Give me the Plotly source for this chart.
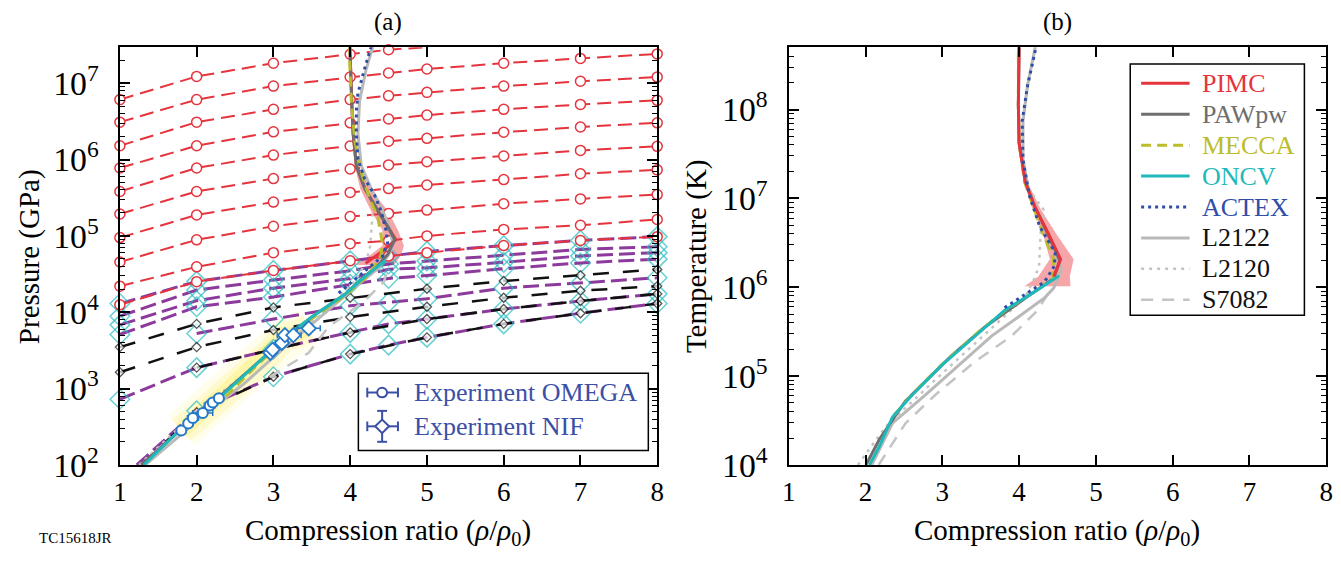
import plotly.graph_objects as go

W, H = 1341, 561
FONT = "Liberation Serif, Times New Roman, serif"

# ---------------- Panel (a): isotherm grid, log10 P [GPa] vs rho/rho0 ----------------
x_grid = [1, 2, 3, 4, 4.5, 5, 6, 7, 8]
x_grid_top = [1, 2, 3, 4, 4.5, 5]
x_int = [1, 2, 3, 4, 5, 6, 7, 8]
x_from2_45 = [2, 3, 4, 4.5, 5, 6, 7, 8]
x_from2 = [2, 3, 4, 5, 6, 7, 8]
x_cold_purple = [1.22, 2, 3, 4, 4.5, 5, 6, 7, 8]
x_cold_black = [1.28, 2, 3, 4, 5, 6, 7, 8]

red_1 = [6.785, 7.089, 7.262, 7.380, 7.439, 7.472]
red_2 = [6.490, 6.785, 6.962, 7.082, 7.133, 7.186, 7.262, 7.325, 7.384]
red_3 = [6.181, 6.490, 6.658, 6.785, 6.835, 6.880, 6.962, 7.025, 7.080]
red_4 = [5.890, 6.181, 6.363, 6.481, 6.532, 6.582, 6.658, 6.722, 6.776]
red_5 = [5.582, 5.890, 6.059, 6.177, 6.241, 6.278, 6.358, 6.427, 6.481]
red_6 = [5.287, 5.582, 5.751, 5.877, 5.930, 5.972, 6.047, 6.120, 6.173]
red_7 = [4.978, 5.275, 5.443, 5.570, 5.620, 5.667, 5.738, 5.814, 5.865]
red_8 = [4.658, 4.949, 5.127, 5.253, 5.295, 5.338, 5.422, 5.485, 5.541]
red_9 = [4.342, 4.595, 4.781, 4.899, 4.937, 5.000, 5.085, 5.139, 5.215]
red_10 = [4.097, 4.401, 4.548, 4.675, 4.738, 4.781, 4.873, 4.941, 4.990]

pur_1 = [4.114, 4.405, 4.548, 4.675, 4.734, 4.797, 4.873, 4.941, 4.991]
pur_2 = [3.949, 4.291, 4.422, 4.544, 4.633, 4.671, 4.747, 4.823, 4.857]
pur_3 = [3.835, 4.152, 4.316, 4.443, 4.563, 4.582, 4.654, 4.738, 4.781]
pur_4 = [3.709, 4.072, 4.199, 4.367, 4.443, 4.481, 4.570, 4.646, 4.696]
pur_5 = [3.722, 3.911, 4.085, 4.127, 4.177, 4.316, 4.380, 4.452]
pur_6 = [2.861, 3.275, 3.515, 3.734, 3.848, 3.911, 4.042, 4.148, 4.241]
pur_7 = [2.000, 2.709, 3.156, 3.452, 3.570, 3.671, 3.848, 3.987, 4.114]

blk_1 = [3.544, 3.848, 4.063, 4.190, 4.308, 4.409, 4.485, 4.561]
blk_2 = [3.215, 3.544, 3.768, 3.937, 4.072, 4.190, 4.282, 4.342]
blk_3 = [3.275, 3.515, 3.734, 3.911, 4.042, 4.148, 4.241]
blk_4 = [2.000, 2.690, 3.156, 3.452, 3.671, 3.848, 3.987, 4.114]

# ---------------- Panel (a): Hugoniots, log10 P ----------------
pimc_a_x = [4.20, 4.42, 4.595, 4.49, 4.36, 4.19, 4.08, 4.037, 4.02, 4.005, 3.996]
pimc_a_logP = [4.64, 4.80, 4.949, 5.118, 5.329, 5.624, 5.92, 6.342, 6.722, 7.186, 7.47]
pimc_a_band_logP = [4.62, 4.74, 4.87, 5.08, 5.33, 5.62, 5.92]
pimc_a_band_lo = [4.06, 4.25, 4.42, 4.42, 4.27, 4.13, 4.06]
pimc_a_band_hi = [4.57, 4.66, 4.70, 4.62, 4.49, 4.26, 4.11]

paw_a_x = [1.28, 1.50, 1.80, 2.00, 2.30, 3.00, 3.50, 3.95, 4.20, 4.38, 4.49, 4.58, 4.49, 4.36, 4.19, 4.08, 4.04, 4.02, 4.005, 3.996]
paw_a_logP = [2.00, 2.20, 2.47, 2.68, 2.90, 3.52, 3.94, 4.25, 4.48, 4.63, 4.76, 4.95, 5.12, 5.33, 5.62, 5.92, 6.34, 6.72, 7.19, 7.47]

oncv_a_x = [1.31, 1.48, 1.78, 2.00, 2.30, 2.99, 3.33, 3.50, 3.93, 4.19, 4.46]
oncv_a_logP = [2.00, 2.165, 2.459, 2.671, 2.882, 3.515, 3.81, 3.937, 4.232, 4.465, 4.68]

mecca_a_x = [2.38, 2.81, 3.32, 3.95, 4.22, 4.40, 4.42, 4.36, 4.25, 4.144, 4.058, 4.015, 3.994, 3.996]
mecca_a_logP = [2.90, 3.33, 3.79, 4.23, 4.47, 4.738, 4.908, 5.244, 5.497, 5.835, 6.257, 6.763, 7.27, 7.47]

actex_a_x = [3.85, 4.05, 4.25, 4.424, 4.488, 4.466, 4.402, 4.316, 4.187, 4.101, 4.08, 4.08, 4.101, 4.144, 4.187, 4.273]
actex_a_logP = [4.25, 4.42, 4.58, 4.738, 4.908, 5.076, 5.329, 5.541, 5.751, 6.004, 6.342, 6.637, 6.87, 7.038, 7.186, 7.48]

l2122_a_x = [1.33, 1.80, 2.10, 2.60, 3.10, 3.60, 4.10, 4.36, 4.50, 4.553, 4.531, 4.424, 4.273, 4.144, 4.101, 4.122, 4.209, 4.295]
l2122_a_logP = [2.0, 2.40, 2.67, 3.05, 3.50, 3.93, 4.36, 4.57, 4.75, 4.865, 5.076, 5.329, 5.624, 5.92, 6.342, 6.763, 7.186, 7.48]

l2120_a_x = [1.25, 2.0, 3.0, 3.6, 4.05, 4.21, 4.26, 4.273, 4.295, 4.25, 4.144, 4.10, 4.12, 4.21, 4.295]
l2120_a_logP = [2.0, 2.70, 3.48, 3.95, 4.40, 4.654, 4.865, 5.076, 5.329, 5.624, 5.92, 6.342, 6.763, 7.186, 7.48]

s7082_a_x = [2.95, 3.46, 3.72, 4.19, 4.44, 4.50]
s7082_a_logP = [3.15, 3.47, 3.81, 4.15, 4.40, 4.60]

# experiments
omega_x = [1.80, 1.89, 1.95, 2.08, 2.17, 2.21, 2.29]
omega_logP = [2.452, 2.544, 2.616, 2.680, 2.778, 2.819, 2.873]
omega_xerr = [0.05, 0.06, 0.07, 0.13, 0.07, 0.06, 0.06]
nif_x = [2.96, 2.99, 3.11, 3.15, 3.26, 3.46]
nif_logP = [3.47, 3.51, 3.60, 3.70, 3.70, 3.79]
nif_xerr = [0.06, 0.06, 0.08, 0.10, 0.10, 0.15]

# ---------------- Panel (b): Hugoniots, log10 T [K] ----------------
pimc_b_x = [4.45, 4.54, 4.38, 4.21, 4.08, 4.00, 3.99, 4.00]
pimc_b_logT = [6.12, 6.315, 6.605, 6.895, 7.185, 7.62, 8.054, 8.70]
pimc_b_band_logT = [6.01, 6.12, 6.315, 6.605, 6.895, 7.185, 7.62]
pimc_b_band_lo = [4.07, 4.25, 4.40, 4.31, 4.17, 4.06, 3.99]
pimc_b_band_hi = [4.67, 4.66, 4.71, 4.48, 4.27, 4.11, 4.01]

paw_b_x = [2.005, 2.18, 2.52, 2.78, 3.12, 3.55, 3.90, 4.15, 4.45, 4.53, 4.37, 4.21, 4.08, 4.00, 3.99, 4.00]
paw_b_logT = [4.0, 4.29, 4.72, 4.94, 5.23, 5.55, 5.77, 5.92, 6.10, 6.30, 6.605, 6.895, 7.185, 7.62, 8.054, 8.70]

oncv_b_x = [2.05, 2.18, 2.35, 2.61, 2.99, 3.51, 3.81, 4.15, 4.52]
oncv_b_logT = [4.0, 4.21, 4.54, 4.79, 5.12, 5.52, 5.74, 5.92, 6.13]

mecca_b_x = [2.37, 2.60, 2.98, 3.50, 3.82, 4.15, 4.44, 4.45, 4.31, 4.19, 4.07, 4.00, 3.99, 3.99]
mecca_b_logT = [4.56, 4.79, 5.12, 5.52, 5.74, 5.92, 6.10, 6.315, 6.605, 6.895, 7.185, 7.62, 8.054, 8.70]

actex_b_x = [3.81, 4.07, 4.33, 4.46, 4.47, 4.27, 4.13, 4.05, 4.04, 4.11, 4.22]
actex_b_logT = [5.77, 5.92, 6.06, 6.24, 6.39, 6.68, 7.04, 7.44, 7.87, 8.27, 8.70]

l2122_b_x = [2.08, 2.35, 2.78, 3.21, 3.64, 3.98, 4.33, 4.45, 4.55, 4.40, 4.26, 4.12, 4.05, 4.05, 4.11, 4.21]
l2122_b_logT = [4.0, 4.47, 4.79, 5.12, 5.45, 5.66, 5.88, 5.99, 6.20, 6.55, 6.80, 7.10, 7.44, 7.87, 8.27, 8.70]

l2120_b_x = [1.90, 2.26, 2.91, 3.55, 4.07, 4.20, 4.26, 4.28, 4.33, 4.13, 4.05, 4.05, 4.11, 4.21]
l2120_b_logT = [4.0, 4.43, 4.96, 5.47, 5.88, 6.10, 6.24, 6.61, 6.86, 7.10, 7.44, 7.87, 8.27, 8.70]

s7082_b_x = [2.17, 2.52, 2.91, 3.42, 3.90, 4.24, 4.37, 4.42]
s7082_b_logT = [4.0, 4.47, 4.79, 5.16, 5.45, 5.74, 5.92, 5.99]

legend_b_names = ["PIMC", "PAWpw", "MECCA", "ONCV", "ACTEX", "L2122", "L2120", "S7082"]

# ---------------- styles ----------------
C_RED = "#e5343d"
C_PUR = "#8c3b9c"
C_CYAN = "#27bcc0"
C_BLK = "#111111"
C_PAW = "#6e6e6e"
C_MEC = "#bcbc2c"
C_ONCV = "#1fb9bb"
C_ACT = "#2f4ea8"
C_LG = "#b9b9b9"
C_EXP = "#2479cc"
C_EXPLEG = "#3b4fa6"

STY = {
    "PIMC": dict(color=C_RED, width=3, dash="solid"),
    "PAWpw": dict(color=C_PAW, width=3, dash="solid"),
    "MECCA": dict(color=C_MEC, width=3, dash="10px,6px"),
    "ONCV": dict(color=C_ONCV, width=3, dash="solid"),
    "ACTEX": dict(color=C_ACT, width=3, dash="3px,4px"),
    "L2122": dict(color=C_LG, width=3, dash="solid"),
    "L2120": dict(color="#c4c4c4", width=2.5, dash="3px,5px"),
    "S7082": dict(color="#c4c4c4", width=2.5, dash="12px,9px"),
}
LEG_TXT = {"PIMC": C_RED, "PAWpw": C_PAW, "MECCA": C_MEC, "ONCV": C_ONCV,
           "ACTEX": C_ACT, "L2122": C_BLK, "L2120": C_BLK, "S7082": C_BLK}


def pw(v):
    return [10 ** t for t in v]


fig = go.Figure()

# ---- panel (a) PIMC band ----
fig.add_trace(go.Scatter(
    x=pimc_a_band_lo + pimc_a_band_hi[::-1],
    y=pw(pimc_a_band_logP + pimc_a_band_logP[::-1]),
    fill="toself", fillcolor="rgba(240,105,112,0.6)", line=dict(width=0),
    mode="lines", xaxis="x", yaxis="y", hoverinfo="skip"))

# ---- glow behind experiments ----
glow_x = omega_x + nif_x
glow_y = pw(omega_logP + nif_logP)
for wdt, a in [(40, 0.12), (28, 0.2), (16, 0.34)]:
    fig.add_trace(go.Scatter(x=glow_x, y=glow_y, mode="lines",
                             line=dict(color=f"rgba(255,236,90,{a})", width=wdt),
                             xaxis="x", yaxis="y", hoverinfo="skip"))

# ---- purple isotherms with cyan diamonds ----
for xs, ys in [(x_grid, pur_1), (x_grid, pur_2), (x_grid, pur_3), (x_grid, pur_4),
               (x_from2_45, pur_5), (x_grid, pur_6), (x_cold_purple, pur_7)]:
    sizes = [0 if (xv % 0.5) else 15 for xv in xs]
    fig.add_trace(go.Scatter(
        x=xs, y=pw(ys), mode="lines+markers", cliponaxis=False,
        line=dict(color=C_PUR, width=3, dash="16px,6px"),
        marker=dict(symbol="diamond-open", size=sizes, color=C_CYAN, line=dict(color=C_CYAN, width=1.5)),
        xaxis="x", yaxis="y"))

# ---- black isotherms ----
for xs, ys in [(x_int, blk_1), (x_int, blk_2), (x_from2, blk_3), (x_cold_black, blk_4)]:
    sizes = [0 if (xv % 1) else 7 for xv in xs]
    fig.add_trace(go.Scatter(
        x=xs, y=pw(ys), mode="lines+markers", cliponaxis=False,
        line=dict(color=C_BLK, width=2.5, dash="16px,14px"),
        marker=dict(symbol="diamond", size=sizes, color="white", line=dict(color=C_BLK, width=1.3)),
        xaxis="x", yaxis="y"))

# ---- red PIMC isotherms ----
for xs, ys in [(x_grid_top, red_1), (x_grid, red_2), (x_grid, red_3), (x_grid, red_4),
               (x_grid, red_5), (x_grid, red_6), (x_grid, red_7), (x_grid, red_8),
               (x_grid, red_9), (x_grid, red_10)]:
    fig.add_trace(go.Scatter(
        x=xs, y=pw(ys), mode="lines+markers", cliponaxis=False,
        line=dict(color=C_RED, width=2, dash="14px,7px"),
        marker=dict(symbol="circle", size=10, color="white", line=dict(color=C_RED, width=1.5)),
        xaxis="x", yaxis="y"))

# ---- panel (a) Hugoniots ----
for name, xs, ys in [("S7082", s7082_a_x, s7082_a_logP), ("L2120", l2120_a_x, l2120_a_logP),
                     ("L2122", l2122_a_x, l2122_a_logP), ("PIMC", pimc_a_x, pimc_a_logP),
                     ("PAWpw", paw_a_x, paw_a_logP), ("MECCA", mecca_a_x, mecca_a_logP),
                     ("ONCV", oncv_a_x, oncv_a_logP), ("ACTEX", actex_a_x, actex_a_logP)]:
    fig.add_trace(go.Scatter(x=xs, y=pw(ys), mode="lines", line=STY[name],
                             xaxis="x", yaxis="y", name=name))

# ---- experiments ----
fig.add_trace(go.Scatter(
    x=omega_x, y=pw(omega_logP), mode="markers", cliponaxis=False,
    marker=dict(symbol="circle", size=10, color="white", line=dict(color=C_EXP, width=2)),
    error_x=dict(type="data", array=omega_xerr, color=C_EXP, thickness=1.5, width=3),
    xaxis="x", yaxis="y", name="Experiment OMEGA"))
fig.add_trace(go.Scatter(
    x=nif_x, y=pw(nif_logP), mode="markers",
    marker=dict(symbol="diamond", size=11, color="white", line=dict(color=C_EXP, width=1.8)),
    error_x=dict(type="data", array=nif_xerr, color=C_EXP, thickness=1.5, width=3),
    error_y=dict(type="percent", value=8, color=C_EXP, thickness=1.5, width=3),
    xaxis="x", yaxis="y", name="Experiment NIF"))

# ---- panel (b) ----
fig.add_trace(go.Scatter(
    x=pimc_b_band_lo + pimc_b_band_hi[::-1],
    y=pw(pimc_b_band_logT + pimc_b_band_logT[::-1]),
    fill="toself", fillcolor="rgba(240,105,112,0.6)", line=dict(width=0),
    mode="lines", xaxis="x2", yaxis="y2", hoverinfo="skip"))
for name, xs, ys in [("S7082", s7082_b_x, s7082_b_logT), ("L2120", l2120_b_x, l2120_b_logT),
                     ("L2122", l2122_b_x, l2122_b_logT), ("PAWpw", paw_b_x, paw_b_logT),
                     ("MECCA", mecca_b_x, mecca_b_logT), ("PIMC", pimc_b_x, pimc_b_logT),
                     ("ONCV", oncv_b_x, oncv_b_logT), ("ACTEX", actex_b_x, actex_b_logT)]:
    fig.add_trace(go.Scatter(x=xs, y=pw(ys), mode="lines", line=STY[name],
                             xaxis="x2", yaxis="y2", name=name))

# ---------------- axes ----------------
def X(px):
    return px / W


def Y(py):
    return 1 - py / H


axis_common = dict(showline=True, linecolor="black", linewidth=1.5, mirror="ticks",
                   ticks="inside", ticklen=10, tickwidth=1.5, tickcolor="black",
                   showgrid=False, zeroline=False,
                   tickfont=dict(family=FONT, size=27, color="black"))
xcommon = dict(axis_common, range=[1, 8], tick0=1, dtick=1, ticklabelstandoff=2)
ycommon = dict(axis_common, type="log", dtick=1, exponentformat="power", ticklabelstandoff=14,
               minor=dict(ticks="inside", ticklen=5, tickwidth=1, tickcolor="black", dtick="D1", showgrid=False))

fig.update_layout(
    width=W, height=H, margin=dict(l=0, r=0, t=0, b=0),
    paper_bgcolor="white", plot_bgcolor="white", showlegend=False,
    font=dict(family=FONT, color="black", size=20),
    xaxis=dict(xcommon, domain=[X(106), X(649)], anchor="y"),
    yaxis=dict(ycommon, domain=[Y(473), Y(40.7)], range=[2, 7.47], anchor="x"),
    xaxis2=dict(xcommon, domain=[X(782), X(1325)], anchor="y2"),
    yaxis2=dict(ycommon, domain=[Y(473), Y(40.7)], range=[4, 8.70], anchor="x2"),
)

ann = []
xt = "Compression ratio (<i>ρ</i>/<i>ρ</i><sub>0</sub>)"
for cx, lab in [(377, "(a)"), (1053, "(b)")]:
    ann.append(dict(x=X(cx), y=Y(14), xref="paper", yref="paper", text=lab, showarrow=False,
                    font=dict(family=FONT, size=25), xanchor="center", yanchor="middle"))
    ann.append(dict(x=X(cx), y=Y(542), xref="paper", yref="paper", text=xt, showarrow=False,
                    font=dict(family=FONT, size=29), xanchor="center", yanchor="middle"))
ann.append(dict(x=X(14), y=Y(257), xref="paper", yref="paper", text="Pressure (GPa)", textangle=-90,
                showarrow=False, font=dict(family=FONT, size=29), xanchor="center", yanchor="middle"))
ann.append(dict(x=X(688), y=Y(257), xref="paper", yref="paper", text="Temperature (K)", textangle=-90,
                showarrow=False, font=dict(family=FONT, size=29), xanchor="center", yanchor="middle"))
ann.append(dict(x=X(22), y=Y(549), xref="paper", yref="paper", text="TC15618JR", showarrow=False,
                font=dict(family=FONT, size=15), xanchor="left", yanchor="middle"))

shapes = []
# ---- legend (a) ----
shapes.append(dict(type="rect", xref="paper", yref="paper", x0=X(347), x1=X(640), y0=Y(458), y1=Y(378),
                   line=dict(color="black", width=1.5), fillcolor="white", layer="above"))
lc = dict(color=C_EXPLEG, width=2)
for yy in (398, 433):
    shapes.append(dict(type="line", xref="paper", yref="paper", x0=X(356), x1=X(387), y0=Y(yy), y1=Y(yy), line=lc))
    for xx in (356, 387):
        shapes.append(dict(type="line", xref="paper", yref="paper", x0=X(xx), x1=X(xx), y0=Y(yy - 5), y1=Y(yy + 5), line=lc))
shapes.append(dict(type="line", xref="paper", yref="paper", x0=X(371), x1=X(371), y0=Y(417), y1=Y(449), line=lc))
for yy in (417, 449):
    shapes.append(dict(type="line", xref="paper", yref="paper", x0=X(366), x1=X(376), y0=Y(yy), y1=Y(yy), line=lc))
shapes.append(dict(type="circle", xref="paper", yref="paper", x0=X(366), x1=X(376), y0=Y(403), y1=Y(393),
                   line=lc, fillcolor="white"))
dpath = f"M {X(364)},{Y(433)} L {X(371)},{Y(426)} L {X(378)},{Y(433)} L {X(371)},{Y(440)} Z"
shapes.append(dict(type="path", xref="paper", yref="paper", path=dpath, line=lc, fillcolor="white"))
for yy, lab in [(398, "Experiment OMEGA"), (433, "Experiment NIF")]:
    ann.append(dict(x=X(401), y=Y(yy), xref="paper", yref="paper", text=lab, showarrow=False,
                    font=dict(family=FONT, size=26, color=C_EXPLEG), xanchor="left", yanchor="middle"))

# ---- legend (b) ----
shapes.append(dict(type="rect", xref="paper", yref="paper", x0=X(1127), x1=X(1303), y0=Y(318), y1=Y(58),
                   line=dict(color="black", width=1.5), fillcolor="white", layer="above"))
for i, name in enumerate(legend_b_names):
    yy = 78 + i * 32
    st = STY[name]
    shapes.append(dict(type="line", xref="paper", yref="paper", x0=X(1138), x1=X(1187), y0=Y(yy), y1=Y(yy),
                       line=dict(color=st["color"], width=st["width"], dash=st["dash"]), layer="above"))
    ann.append(dict(x=X(1197), y=Y(yy), xref="paper", yref="paper", text=name, showarrow=False,
                    font=dict(family=FONT, size=26, color=LEG_TXT[name]), xanchor="left", yanchor="middle"))

fig.update_layout(annotations=ann, shapes=shapes)
fig.write_html("out.html")
